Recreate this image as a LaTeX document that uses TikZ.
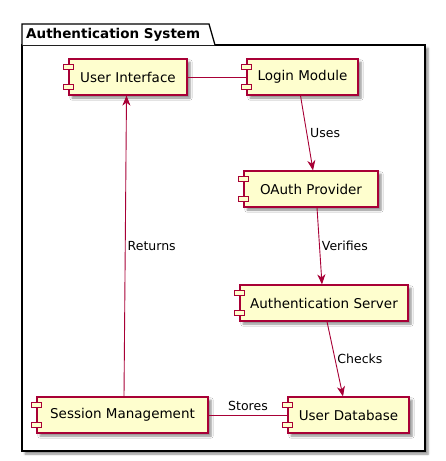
\documentclass[tikz,border=0pt]{standalone}
\usepackage{fontspec}
\setmainfont{DejaVu Sans}
\usetikzlibrary{arrows.meta,shadows.blur,calc}
\definecolor{pumlred}{HTML}{A80036}
\definecolor{pumlfill}{HTML}{FEFECE}
\tikzset{
  comp/.style={draw=pumlred, fill=pumlfill, line width=1.2pt, minimum height=36, inner sep=0pt,
    font=\fontsize{13.5}{16}\selectfont,
    blur shadow={shadow xshift=3pt, shadow yshift=-3pt, shadow blur steps=5, shadow opacity=45}},
  icon/.style={draw=pumlred, fill=pumlfill, line width=1pt},
  conn/.style={draw=pumlred, line width=0.9pt},
  arr/.style={conn, -{Stealth[length=10pt,width=8pt,inset=3pt]}},
  lbl/.style={font=\fontsize{12.5}{15}\selectfont, inner sep=0pt},
}
\begin{document}
\begin{tikzpicture}[x=1pt,y=-1pt]
\useasboundingbox (0,0) rectangle (446,461);
% package
\path[blur shadow={shadow xshift=3pt, shadow yshift=-3pt, shadow blur steps=5, shadow opacity=45}]
  (22,45) rectangle (425,451);
\draw[line width=1.3pt, fill=white] (22,45) rectangle (425,451);
\draw[line width=1.3pt, fill=white] (22,45) -- (22,24) -- (209,24) -- (215,45);
\node[anchor=west, inner sep=0pt, font=\bfseries\fontsize{13.5}{16}\selectfont] (pkg) at (26,35) {Authentication System};
% components
\node[comp, minimum width=118] (ui) at (128,77) {User Interface};
\node[comp, minimum width=111] (login) at (302.5,77) {Login Module};
\node[comp, minimum width=134] (oauth) at (311,189) {OAuth Provider};
\node[comp, minimum width=168] (auth) at (324,303) {Authentication Server};
\node[comp, minimum width=121] (db) at (348.5,415) {User Database};
\node[comp, minimum width=171] (sess) at (122.5,415) {Session Management};
\foreach \n in {ui,login,oauth,auth,db,sess}{
  \draw[icon] ($(\n.west)+(-5,-12.5)$) rectangle ($(\n.west)+(5,-7.5)$);
  \draw[icon] ($(\n.west)+(-5,7.5)$) rectangle ($(\n.west)+(5,12.5)$);
}
% connectors
\draw[conn] (ui.east) -- (login.west);
\draw[arr] ([xshift=-2]login.south) -- node[lbl, pos=0.5, anchor=west, xshift=3] (l1) {Uses} ([xshift=2]oauth.north);
\draw[arr] ([xshift=6]oauth.south) -- node[lbl, pos=0.5, anchor=west, xshift=2] (l2) {Verifies} ([xshift=-2]auth.north);
\draw[arr] ([xshift=3]auth.south) -- node[lbl, pos=0.5, anchor=west, xshift=2] (l3) {Checks} ([xshift=-5.5]db.north);
\draw[arr] ([xshift=1.5]sess.north) -- node[lbl, pos=0.5, anchor=west, xshift=2] (l4) {Returns} ([xshift=-1.5]ui.south);
\draw[conn] (sess.east) -- node[lbl, pos=0.5, above=4pt] (l5) {Stores} (db.west);
\end{tikzpicture}
\end{document}
